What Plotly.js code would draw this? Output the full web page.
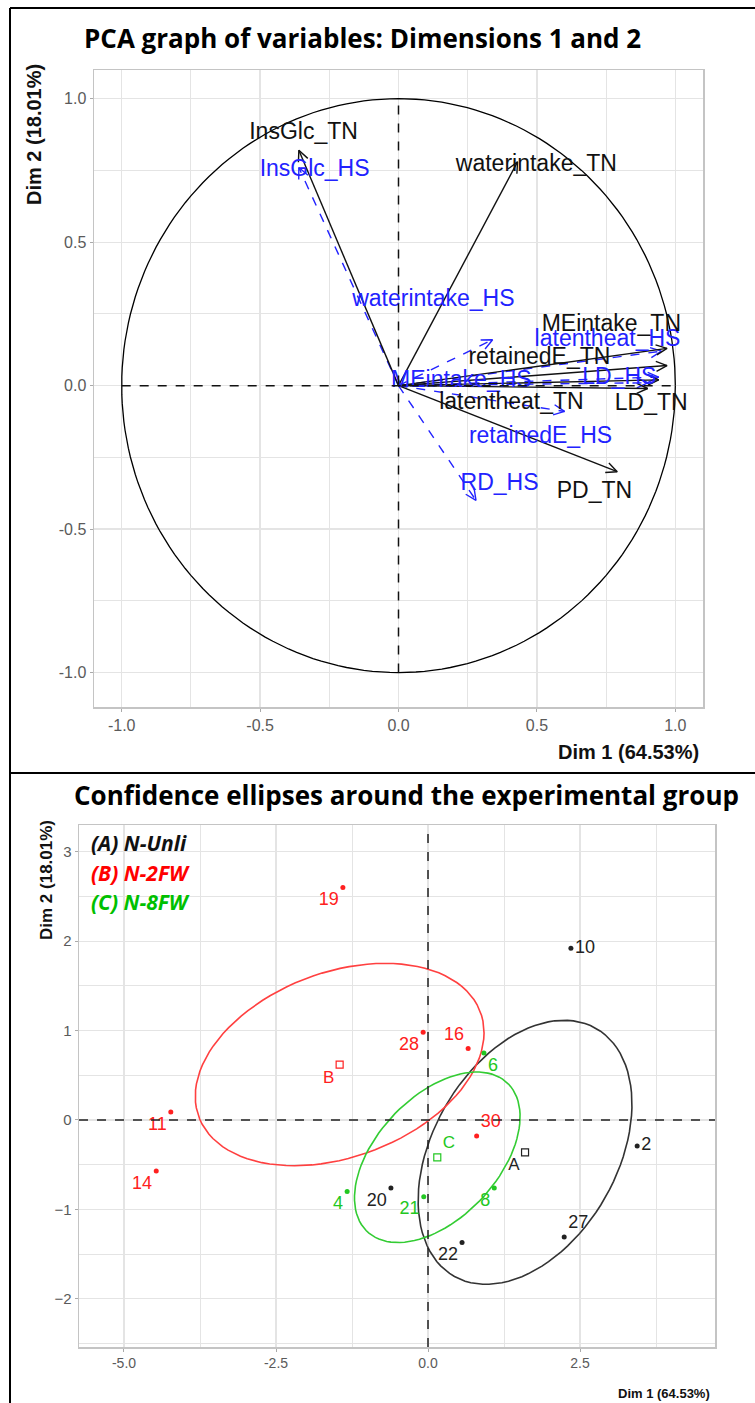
<!DOCTYPE html>
<html>
<head>
<meta charset="utf-8">
<script src="https://cdn.plot.ly/plotly-3.0.1.min.js"></script>
<style>html,body{margin:0;padding:0;background:#fff;}#chart{width:755px;height:1403px;}</style>
</head>
<body>
<div id="chart"></div>
<script>
// ---------- Top plot: PCA variables ----------
const varsTN = ["InsGlc_TN","waterintake_TN","MEintake_TN","retainedE_TN","LD_TN","latentheat_TN","PD_TN"];
const tnX = [-0.36, 0.43, 0.97, 0.97, 0.94, 0.90, 0.79];
const tnY = [0.82, 0.78, 0.13, 0.07, 0.02, -0.01, -0.30];
const tnLabelX = [-0.343, 0.498, 0.769, 0.509, 0.913, 0.408, 0.708];
const tnLabelY = [0.878, 0.767, 0.209, 0.094, -0.066, -0.063, -0.373];

const varsHS = ["InsGlc_HS","waterintake_HS","latentheat_HS","LD_HS","MEintake_HS","retainedE_HS","RD_HS"];
const hsX = [-0.36, 0.34, 0.95, 0.94, 0.90, 0.60, 0.28];
const hsY = [0.76, 0.16, 0.12, 0.03, 0.01, -0.09, -0.40];
const hsLabelX = [-0.303, 0.126, 0.755, 0.798, 0.227, 0.513, 0.365];
const hsLabelY = [0.749, 0.296, 0.157, 0.024, 0.014, -0.181, -0.345];

const topTicks = [-1, -0.5, 0, 0.5, 1];
const topTickText = ["-1.0", "-0.5", "0.0", "0.5", "1.0"];

// ---------- Bottom plot: individuals ----------
const grpA_ids = ["2","10","20","22","27"];
const grpA_x = [3.44, 2.35, -0.61, 0.56, 2.24];
const grpA_y = [-0.29, 1.92, -0.76, -1.37, -1.31];
const grpB_ids = ["11","14","16","19","28","30"];
const grpB_x = [-4.23, -4.47, 0.66, -1.40, -0.08, 0.80];
const grpB_y = [0.09, -0.57, 0.80, 2.60, 0.98, -0.18];
const grpC_ids = ["4","6","8","21"];
const grpC_x = [-1.33, 0.92, 1.09, -0.07];
const grpC_y = [-0.80, 0.75, -0.76, -0.86];
const groupNames = ["A","B","C"];
const legendTexts = ["(A) N-Unli","(B) N-2FW","(C) N-8FW"];

const botXTicks = [-5, -2.5, 0, 2.5];
const botXTickText = ["-5.0", "-2.5", "0.0", "2.5"];
const botYTicks = [-2, -1, 0, 1, 2, 3];

// ---------- geometry ----------
const W = 755, H = 1403;
const topPx = {l: 94, r: 703, t: 70, b: 707};
const topXR = [-1.10, 1.10], topYR = [-1.12, 1.10];
const botPx = {l: 79, r: 715, t: 825, b: 1347};
const botXR = [-5.74, 4.72], botYR = [-2.54, 3.30];

const sx = (topPx.r - topPx.l) / (topXR[1] - topXR[0]);
const sy = (topPx.b - topPx.t) / (topYR[1] - topYR[0]);

function shafts(xs, ys) {
  const X = [], Y = [];
  xs.forEach((x, i) => { X.push(0, x, null); Y.push(0, ys[i], null); });
  return {X, Y};
}
function heads(xs, ys, len, angDeg) {
  const a = angDeg * Math.PI / 180, X = [], Y = [];
  xs.forEach((x, i) => {
    const px = x * sx, py = ys[i] * sy;
    const th = Math.atan2(py, px);
    const p1x = px - len * Math.cos(th - a), p1y = py - len * Math.sin(th - a);
    const p2x = px - len * Math.cos(th + a), p2y = py - len * Math.sin(th + a);
    X.push(p1x / sx, x, p2x / sx, null);
    Y.push(p1y / sy, ys[i], p2y / sy, null);
  });
  return {X, Y};
}
function mean(a) { return a.reduce((s, v) => s + v, 0) / a.length; }
function ellipse(xs, ys, npts) {
  const n = xs.length, mx = mean(xs), my = mean(ys);
  let vx = 0, vy = 0, cxy = 0;
  for (let i = 0; i < n; i++) {
    vx += (xs[i] - mx) ** 2; vy += (ys[i] - my) ** 2; cxy += (xs[i] - mx) * (ys[i] - my);
  }
  vx /= (n - 1) * n; vy /= (n - 1) * n; cxy /= (n - 1) * n;
  const s1 = Math.sqrt(vx), s2 = Math.sqrt(vy);
  const r = cxy / (s1 * s2), d = Math.acos(r);
  const t = Math.sqrt(-2 * Math.log(1 - 0.95)); // sqrt(qchisq(0.95, 2))
  const X = [], Y = [];
  for (let k = 0; k <= npts; k++) {
    const ang = 2 * Math.PI * k / npts;
    X.push(t * s1 * Math.cos(ang + d / 2) + mx);
    Y.push(t * s2 * Math.cos(ang - d / 2) + my);
  }
  return {X, Y, mx, my};
}

const circX = [], circY = [];
for (let k = 0; k <= 200; k++) { const a = 2 * Math.PI * k / 200; circX.push(Math.cos(a)); circY.push(Math.sin(a)); }

const BLUE = "#2222ff", RED = "#ff2020", GREEN = "#22c722", BLACK = "#111111";
const labFont = "Liberation Sans, Arial, sans-serif";

const tnS = shafts(tnX, tnY), tnH = heads(tnX, tnY, 12, 25);
const hsS = shafts(hsX, hsY), hsH = heads(hsX, hsY, 12, 25);

const traces = [
  {x: circX, y: circY, mode: "lines", line: {color: "#000", width: 1.3}, xaxis: "x", yaxis: "y", hoverinfo: "skip"},
  {x: hsS.X, y: hsS.Y, mode: "lines", line: {color: BLUE, width: 1.4, dash: "dash"}, xaxis: "x", yaxis: "y"},
  {x: hsH.X, y: hsH.Y, mode: "lines", line: {color: BLUE, width: 1.4}, xaxis: "x", yaxis: "y"},
  {x: tnS.X, y: tnS.Y, mode: "lines", line: {color: BLACK, width: 1.4}, xaxis: "x", yaxis: "y"},
  {x: tnH.X, y: tnH.Y, mode: "lines", line: {color: BLACK, width: 1.4}, xaxis: "x", yaxis: "y"},
  {x: hsLabelX, y: hsLabelY, text: varsHS, mode: "text", textfont: {family: labFont, size: 23, color: BLUE}, xaxis: "x", yaxis: "y"},
  {x: tnLabelX, y: tnLabelY, text: varsTN, mode: "text", textfont: {family: labFont, size: 23, color: BLACK}, xaxis: "x", yaxis: "y"}
];

const groups = [
  {ids: grpA_ids, x: grpA_x, y: grpA_y, color: "#222222", ecolor: "#333333",
   pos: ["middle right","middle right","bottom left","bottom left","top right"], cpos: "bottom left"},
  {ids: grpB_ids, x: grpB_x, y: grpB_y, color: RED, ecolor: "#ff4040",
   pos: ["bottom left","bottom left","top left","bottom left","bottom left","top right"], cpos: "bottom left"},
  {ids: grpC_ids, x: grpC_x, y: grpC_y, color: GREEN, ecolor: "#33cc33",
   pos: ["bottom left","bottom right","bottom left","bottom left"], cpos: "top right"}
];
const botFont = "Liberation Sans Narrow, Liberation Sans, Arial, sans-serif";
groups.forEach((g, gi) => {
  const e = ellipse(g.x, g.y, 100);
  traces.push({x: e.X, y: e.Y, mode: "lines", line: {color: g.ecolor, width: 1.6}, xaxis: "x2", yaxis: "y2"});
  traces.push({x: g.x, y: g.y, text: g.ids, mode: "markers+text", textposition: g.pos,
    marker: {color: g.color, size: 5}, textfont: {family: botFont, size: 18, color: g.color}, xaxis: "x2", yaxis: "y2"});
  traces.push({x: [e.mx], y: [e.my], text: [groupNames[gi]], mode: "markers+text", textposition: g.cpos,
    marker: {symbol: "square-open", color: g.color, size: 7, line: {width: 1.2}},
    textfont: {family: botFont, size: 17, color: g.color}, xaxis: "x2", yaxis: "y2"});
});

const px2x = p => p / W, px2y = p => 1 - p / H;
const gridC = "#e4e4e4", borderC = "#c4c4c4", tickC = "#5a5a5a";

const layout = {
  width: W, height: H, margin: {l: 0, r: 0, t: 0, b: 0},
  paper_bgcolor: "#fff", plot_bgcolor: "#fff", showlegend: false,
  xaxis: {domain: [px2x(topPx.l), px2x(topPx.r)], range: topXR, anchor: "y",
    tickvals: topTicks, ticktext: topTickText, showgrid: true, gridcolor: gridC, gridwidth: 1.2,
    minor: {dtick: 0.25, tick0: 0, showgrid: true, gridcolor: gridC, gridwidth: 1},
    zeroline: false, showline: true, mirror: true, linecolor: borderC, linewidth: 1.5,
    ticks: "outside", ticklen: 3, tickcolor: "#aaa", tickfont: {family: labFont, size: 16, color: tickC}},
  yaxis: {domain: [px2y(topPx.b), px2y(topPx.t)], range: topYR, anchor: "x",
    tickvals: topTicks, ticktext: topTickText, showgrid: true, gridcolor: gridC, gridwidth: 1.2,
    minor: {dtick: 0.25, tick0: 0, showgrid: true, gridcolor: gridC, gridwidth: 1},
    zeroline: false, showline: true, mirror: true, linecolor: borderC, linewidth: 1.5,
    ticks: "outside", ticklen: 3, tickcolor: "#aaa", tickfont: {family: labFont, size: 16, color: tickC}},
  xaxis2: {domain: [px2x(botPx.l), px2x(botPx.r)], range: botXR, anchor: "y2",
    tickvals: botXTicks, ticktext: botXTickText, showgrid: true, gridcolor: gridC, gridwidth: 1.2,
    minor: {dtick: 1.25, tick0: 0, showgrid: true, gridcolor: gridC, gridwidth: 1},
    zeroline: false, showline: true, mirror: true, linecolor: borderC, linewidth: 1.5,
    ticks: "outside", ticklen: 3, tickcolor: "#aaa", tickfont: {family: botFont, size: 14, color: tickC}},
  yaxis2: {domain: [px2y(botPx.b), px2y(botPx.t)], range: botYR, anchor: "x2",
    tickvals: botYTicks, showgrid: true, gridcolor: gridC, gridwidth: 1.2,
    minor: {dtick: 0.5, tick0: 0, showgrid: true, gridcolor: gridC, gridwidth: 1},
    zeroline: false, showline: true, mirror: true, linecolor: borderC, linewidth: 1.5,
    ticks: "outside", ticklen: 3, tickcolor: "#aaa", tickfont: {family: botFont, size: 15, color: tickC}},
  shapes: [
    {type: "line", xref: "x", yref: "y", x0: -1, x1: 1, y0: 0, y1: 0, line: {color: "#111", width: 1.5, dash: "dash"}},
    {type: "line", xref: "x", yref: "y", x0: 0, x1: 0, y0: -1, y1: 1, line: {color: "#111", width: 1.5, dash: "dash"}},
    {type: "line", xref: "x2 domain", yref: "y2", x0: 0, x1: 1, y0: 0, y1: 0, line: {color: "#222", width: 1.5, dash: "dash"}},
    {type: "line", xref: "x2", yref: "y2 domain", x0: 0, x1: 0, y0: 0, y1: 1, line: {color: "#222", width: 1.5, dash: "dash"}},
    {type: "line", xref: "paper", yref: "paper", x0: px2x(10), x1: px2x(10), y0: 0, y1: px2y(8), line: {color: "#000", width: 2}},
    {type: "line", xref: "paper", yref: "paper", x0: px2x(10), x1: 1, y0: px2y(8), y1: px2y(8), line: {color: "#000", width: 2}},
    {type: "line", xref: "paper", yref: "paper", x0: px2x(10), x1: 1, y0: px2y(773), y1: px2y(773), line: {color: "#000", width: 2}}
  ],
  annotations: [
    {xref: "paper", yref: "paper", x: px2x(362), y: px2y(38), text: "<b>PCA graph of variables: Dimensions 1 and 2</b>",
     showarrow: false, xanchor: "center", yanchor: "middle", font: {family: "Open Sans, Noto Sans, sans-serif", size: 26, color: "#000"}},
    {xref: "paper", yref: "paper", x: px2x(406), y: px2y(795), text: "<b>Confidence ellipses around the experimental group</b>",
     showarrow: false, xanchor: "center", yanchor: "middle", font: {family: "Open Sans, Noto Sans, sans-serif", size: 26, color: "#000"}},
    {xref: "paper", yref: "paper", x: px2x(701), y: px2y(752), text: "<b>Dim 1 (64.53%)</b>",
     showarrow: false, xanchor: "right", yanchor: "middle", font: {family: labFont, size: 20, color: "#111"}},
    {xref: "paper", yref: "paper", x: px2x(34), y: px2y(135), text: "<b>Dim 2 (18.01%)</b>", textangle: -90,
     showarrow: false, xanchor: "center", yanchor: "middle", font: {family: labFont, size: 20, color: "#111"}},
    {xref: "paper", yref: "paper", x: px2x(712), y: px2y(1393), text: "<b>Dim 1 (64.53%)</b>",
     showarrow: false, xanchor: "right", yanchor: "middle", font: {family: botFont, size: 13, color: "#111"}},
    {xref: "paper", yref: "paper", x: px2x(46), y: px2y(880), text: "<b>Dim 2 (18.01%)</b>", textangle: -90,
     showarrow: false, xanchor: "center", yanchor: "middle", font: {family: botFont, size: 17, color: "#111"}}
  ]
};
const legendColors = [BLACK, "#ff0000", "#00c000"];
legendTexts.forEach((t, i) => {
  layout.annotations.push({xref: "paper", yref: "paper", x: px2x(89), y: px2y(843 + 29.5 * i),
    text: "<b><i>" + t + "</i></b>", showarrow: false, xanchor: "left", yanchor: "middle",
    font: {family: "Open Sans, Noto Sans, sans-serif", size: 21, color: legendColors[i]}});
});

Plotly.newPlot("chart", traces, layout, {displayModeBar: false, staticPlot: true});
</script>
</body>
</html>
